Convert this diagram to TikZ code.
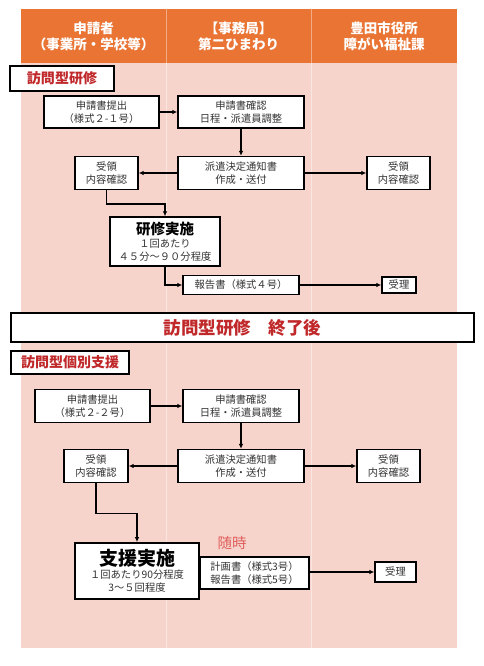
\documentclass[tikz,border=0pt]{standalone}
\usepackage{fontspec}
\setmainfont{Noto Sans CJK JP}
\usetikzlibrary{arrows.meta}

\tikzset{
  flowbox/.style={draw=black, line width=1.3pt, fill=white, align=center,
    inner sep=0pt, text=black!80, font=\fontsize{10.3}{13}\selectfont},
  flowarrow/.style={line width=1.5pt, -{Latex[length=5pt,width=4.5pt]}},
  lanehead/.style={text=white, align=center, font=\bfseries\fontsize{13.5}{16}\selectfont},
  sectionlabel/.style={draw=black, line width=2pt, fill=white, inner sep=0pt,
    text=title_red, font=\bfseries\fontsize{14}{16}\selectfont},
}

\begin{document}
\begin{tikzpicture}[x=1pt, y=-1pt]
    \definecolor{head_orange}{HTML}{E97434}
    \definecolor{lane_pink}{HTML}{F6D3CB}
    \definecolor{lane_line}{HTML}{FAE6E1}
    \definecolor{title_red}{HTML}{C0282A}
    \definecolor{note_red}{HTML}{E0605C}
    \useasboundingbox[fill=white] (0,0) rectangle (483,666);
    %\draw[help lines] (0,0) grid (483,666);

    % lanes
    \path[fill=head_orange] (21,9) rectangle (457,63);
    \path[fill=lane_pink] (21,63) rectangle (457,648);
    \draw[color=head_orange!60!white, line width=0.8pt] (166,9) -- (166,63) (311,9) -- (311,63);
    \draw[color=lane_line, line width=0.8pt] (166,63) -- (166,648) (311,63) -- (311,648);
    \node[lanehead] (head1) at (93.5,36) {申請者\\（事業所・学校等）};
    \node[lanehead] (head2) at (238.5,36) {【事務局】\\第二ひまわり};
    \node[lanehead] (head3) at (384,36) {豊田市役所\\障がい福祉課};

    % 訪問型研修
    \node[sectionlabel, minimum width=104pt, minimum height=25pt] (label1) at (62,78.5) {訪問型研修};
    \node[flowbox, minimum width=115pt, minimum height=32pt] (apply1) at (101.5,112) {申請書提出\\（様式２-１号）};
    \node[flowbox, minimum width=126pt, minimum height=32pt] (check1) at (241,112) {申請書確認\\日程・派遣員調整};
    \node[flowbox, minimum width=126pt, minimum height=33pt] (notice1) at (241,173) {派遣決定通知書\\作成・送付};
    \node[flowbox, minimum width=63pt, minimum height=33pt] (recvL1) at (106.5,173) {受領\\内容確認};
    \node[flowbox, minimum width=63pt, minimum height=33pt] (recvR1) at (398.5,173) {受領\\内容確認};
    \node[flowbox, minimum width=110pt, minimum height=49pt] (kenshu) at (165,241.5) {%
        {\bfseries\fontsize{14.5}{17}\selectfont\color{black} 研修実施}\\１回あたり\\４５分～９０分程度};
    \node[flowbox, minimum width=116pt, minimum height=19pt] (report1) at (241,285) {報告書（様式４号）};
    \node[flowbox, minimum width=34pt, minimum height=16pt] (accept1) at (399,285) {受理};

    \draw[flowarrow] (apply1) -- (check1);
    \draw[flowarrow] (check1) -- (notice1);
    \draw[flowarrow] (notice1) -- (recvL1);
    \draw[flowarrow] (notice1) -- (recvR1);
    \draw[flowarrow] (recvL1.south) -- ++(0,14) -| (kenshu.north);
    \draw[flowarrow] (kenshu.south) |- (report1.west);
    \draw[flowarrow] (report1) -- (accept1);

    % 終了後
    \node[draw=black, line width=2pt, fill=white, minimum width=463pt, minimum height=29pt,
        text=title_red, font=\bfseries\fontsize{17.5}{20}\selectfont] (banner) at (242.5,327.5) {訪問型研修　終了後};

    % 訪問型個別支援
    \node[sectionlabel, minimum width=118pt, minimum height=23pt] (label2) at (70,362.5) {訪問型個別支援};
    \node[flowbox, minimum width=115pt, minimum height=33pt] (apply2) at (92.5,406) {申請書提出\\（様式２-２号）};
    \node[flowbox, minimum width=116pt, minimum height=33pt] (check2) at (241,406) {申請書確認\\日程・派遣員調整};
    \node[flowbox, minimum width=126pt, minimum height=33pt] (notice2) at (241,466) {派遣決定通知書\\作成・送付};
    \node[flowbox, minimum width=64pt, minimum height=33pt] (recvL2) at (96,466) {受領\\内容確認};
    \node[flowbox, minimum width=63pt, minimum height=33pt] (recvR2) at (388.5,466) {受領\\内容確認};
    \node[flowbox, line width=1.8pt, minimum width=124pt, minimum height=56pt] (shien) at (137,571) {%
        {\bfseries\fontsize{19}{21}\selectfont\color{black} 支援実施}\\１回あたり90分程度\\3～５回程度};
    \node[text=note_red, font=\fontsize{14.5}{16}\selectfont] (anytime) at (232,543) {随時};
    \node[flowbox, minimum width=109pt, minimum height=32pt] (plan) at (254.5,573) {計画書（様式3号）\\報告書（様式5号）};
    \node[flowbox, minimum width=41pt, minimum height=20pt] (accept2) at (395.5,572) {受理};

    \draw[flowarrow] (apply2) -- (check2);
    \draw[flowarrow] (check2) -- (notice2);
    \draw[flowarrow] (notice2) -- (recvL2);
    \draw[flowarrow] (notice2) -- (recvR2);
    \draw[flowarrow] (recvL2.south) -- ++(0,30.5) -| (shien.north);
    \draw[flowarrow] (plan.east |- accept2) -- (accept2);

\end{tikzpicture}
\end{document}
